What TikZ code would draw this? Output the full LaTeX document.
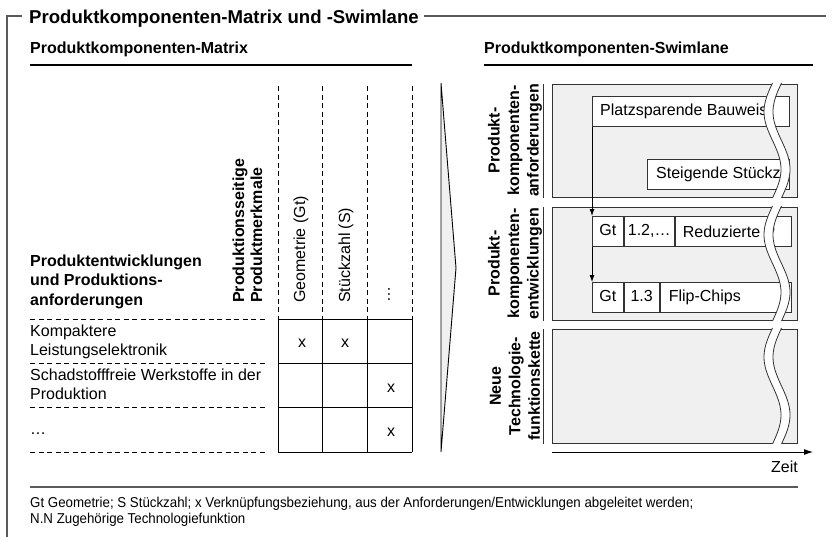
\documentclass[tikz,border=0pt]{standalone}
\usepackage{fontspec}
\setmainfont{Liberation Sans}
\newfontfamily\notefont[FakeStretch=0.93]{Liberation Sans}
\usetikzlibrary{positioning,arrows.meta}

\definecolor{framegray}{HTML}{5A5A5A}
\definecolor{lanefill}{HTML}{F0F0F0}
\definecolor{lanedraw}{HTML}{333333}

\tikzset{
  plain/.style={inner sep=0pt, font=\fontsize{16}{19.5}\selectfont},
  boldtxt/.style={inner sep=0pt, font=\fontsize{16}{19.5}\selectfont\bfseries},
  colhead/.style={plain, rotate=90, anchor=west, align=left},
  lanelabel/.style={boldtxt, rotate=90, align=center},
  lane/.style={draw=lanedraw, fill=lanefill, line width=0.8pt, inner sep=0pt, anchor=north west},
  cell/.style={draw=lanedraw, fill=white, line width=0.8pt, minimum height=30pt, inner sep=0pt,
    text height=11.5pt, text depth=3.4pt, anchor=north west, font=\fontsize{16}{19.5}\selectfont},
  gridline/.style={dash pattern=on 5pt off 3.5pt, line width=0.8pt},
  xmark/.style={plain},
}

\begin{document}
\begin{tikzpicture}[x=1pt, y=-1pt, >=Stealth]
  \useasboundingbox (0,0) rectangle (835,536);

  % --- OUTER FRAME AND TITLE ---
  \node[boldtxt, font=\fontsize{18.6}{22}\selectfont\bfseries, anchor=base west] (title) at (29,23)
    {Produktkomponenten-Matrix und -Swimlane};
  \coordinate (frameR) at (826,16);
  \draw[framegray, line width=2pt] (22,16) -- (7,16) -- (7,537);
  \draw[framegray, line width=2pt] ([xshift=5pt]title.east |- frameR) -- (frameR);

  % --- SUBHEADINGS ---
  \node[boldtxt, anchor=base west] (mxhead) at (30,53) {Produktkomponenten-Matrix};
  \node[boldtxt, anchor=base west] (swhead) at (484,53) {Produktkomponenten-Swimlane};
  \draw[line width=1.2pt] (30,65) -- (412,65);
  \draw[line width=1.2pt] (484,65) -- (813,65);

  % --- MATRIX: COLUMN HEADERS ---
  \foreach \x in {278,322,367,412}
    \draw[gridline] (\x,86) -- (\x,319);
  \node[colhead, font=\fontsize{16}{18}\selectfont\bfseries] (prodmerk) at (247.5,303)
    {Produktionsseitige\\Produktmerkmale};
  \node[colhead] (geo) at (301,303) {Geometrie (Gt)};
  \node[colhead] (stz) at (346,303) {Stückzahl (S)};
  \node[colhead] (more) at (389,303) {…};

  % --- MATRIX: ROW HEADERS ---
  % base of a multi-line node = baseline of its last line
  \node[boldtxt, anchor=base west, align=left] (rowhead) at (30,305)
    {Produktentwicklungen\\und Produktions-\\anforderungen};
  \foreach \y in {319,363,407,452}
    \draw[gridline] (30,\y) -- (265,\y);
  \node[plain, anchor=base west, align=left] (row1) at (30,355.5) {Kompaktere\\Leistungselektronik};
  \node[plain, anchor=base west, align=left] (row2) at (30,399.5) {Schadstofffreie Werkstoffe in der\\Produktion};
  \node[plain, anchor=base west] (row3) at (30,434) {…};

  % --- MATRIX: GRID AND LINKS ---
  \foreach \x in {278,322.7,367.3,412}
    \draw[line width=0.9pt] (\x,319) -- (\x,452);
  \foreach \y in {319,363.3,407.7,452}
    \draw[line width=0.9pt] (278,\y) -- (412,\y);
  \foreach \x/\y/\n in {302/343/a, 345/343/b, 391/388/c, 391/432/d}
    \node[xmark] (x\n) at (\x,\y) {x};

  % --- CHEVRON ---
  \filldraw[fill=lanefill, draw=black, line width=0.9pt] (441,83) -- (456,268) -- (441,452) -- cycle;

  % --- SWIMLANES ---
  \node[lane, minimum width=245pt, minimum height=113pt] (lane1) at (552,84) {};
  \node[lane, minimum width=245pt, minimum height=113pt] (lane2) at (552,207) {};
  \node[lane, minimum width=245pt, minimum height=114pt] (lane3) at (552,329) {};
  \foreach \l in {lane1,lane2,lane3}
    \draw[lanedraw, line width=0.8pt] ([xshift=-9pt]\l.north west) -- ([xshift=-9pt]\l.south west);
  \node[lanelabel] (lab1) at (515,140.5) {Produkt-\\komponenten-\\anforderungen};
  \node[lanelabel] (lab2) at (515,263.5) {Produkt-\\komponenten-\\entwicklungen};
  \node[lanelabel] (lab3) at (515,386) {Neue\\Technologie-\\funktionskette};

  % lane 1: requirements
  \node[cell, minimum width=197pt] (plz) at (592,96) {};
  \node[plain, anchor=west] (plztxt) at ([xshift=8pt]plz.west) {Platzsparende Bauweis};
  \node[cell, minimum width=142pt] (stk) at (647,159) {};
  \node[plain, anchor=west] (stktxt) at ([xshift=9pt]stk.west) {Steigende Stückz};

  % lane 2: developments
  \node[cell, minimum width=31pt] (gt1) at (592,216) {Gt};
  \node[cell, minimum width=50pt, right=0pt of gt1] (tf1) {1.2,…};
  \node[cell, minimum width=116pt, right=0pt of tf1] (red) {};
  \node[plain, anchor=west] (redtxt) at ([xshift=8pt]red.west) {Reduzierte P};
  \node[cell, minimum width=31pt] (gt2) at (592,282) {Gt};
  \node[cell, minimum width=35pt, right=0pt of gt2] (tf2) {1.3};
  \node[cell, minimum width=131pt, right=0pt of tf2] (flip) {};
  \node[plain, anchor=west] (fliptxt) at ([xshift=9pt]flip.west) {Flip-Chips};

  \draw[-{Latex[length=7pt,width=5pt]}, line width=0.8pt] (plz.south west) -- (gt1.north west);
  \draw[-{Latex[length=7pt,width=5pt]}, line width=0.8pt] (gt1.south west) -- (gt2.north west);

  % --- WAVY CUT ---
  \foreach \ya/\yb in {84/197, 207/320, 329/443}{
    \fill[white] plot[domain=0:1, samples=41] ({772.5-8.5*sin(360*\x)}, {\ya-1+(\yb-\ya+2)*\x})
      -- plot[domain=1:0, samples=41] ({781.5-8.5*sin(360*\x)}, {\ya-1+(\yb-\ya+2)*\x}) -- cycle;
    \draw[lanedraw, line width=0.8pt] plot[domain=0:1, samples=41] ({772.5-8.5*sin(360*\x)}, {\ya-1+(\yb-\ya+2)*\x});
    \draw[lanedraw, line width=0.8pt] plot[domain=0:1, samples=41] ({781.5-8.5*sin(360*\x)}, {\ya-1+(\yb-\ya+2)*\x});
  }

  % --- TIME AXIS ---
  \coordinate (t0) at (552,452);
  \coordinate (t1) at (813,452);
  \draw[-{Latex[length=9pt,width=6pt]}, line width=0.9pt] (t0) -- (t1);
  \node[plain, anchor=base east] (zeit) at (798,472) {Zeit};

  % --- FOOTNOTE ---
  \draw[framegray, line width=1.3pt] (30,487) -- (798,487);
  \node[inner sep=0pt, anchor=base west, align=left, font=\notefont\fontsize{14.3}{16}\selectfont] (note) at (30,523)
    {Gt Geometrie; S Stückzahl; x Verknüpfungsbeziehung, aus der Anforderungen/Entwicklungen abgeleitet werden;\\
     N.N Zugehörige Technologiefunktion};
\end{tikzpicture}
\end{document}
